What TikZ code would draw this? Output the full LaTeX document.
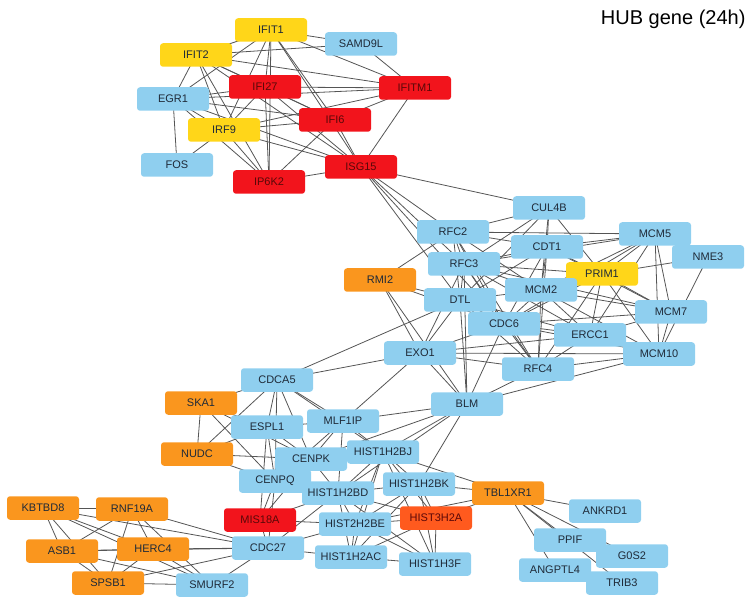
\documentclass[tikz,border=0pt]{standalone}
\usepackage{fontspec}
\setmainfont{Liberation Sans}
\usetikzlibrary{backgrounds}
\definecolor{nblue}{HTML}{8FCFEF}
\definecolor{nyellow}{HTML}{FFD619}
\definecolor{nred}{HTML}{F2141C}
\definecolor{norange}{HTML}{FA961E}
\definecolor{nored}{HTML}{FF5A1E}
\definecolor{ntext}{HTML}{1F2A38}
\definecolor{nredtext}{HTML}{5A0808}
\definecolor{edgec}{HTML}{555555}
\tikzset{
  gene/.style={rectangle, rounded corners=3pt, minimum width=72pt, minimum height=23.5pt, inner sep=0pt, font=\fontsize{11}{12}\selectfont, text=ntext},
  gblue/.style={gene, fill=nblue},
  gyel/.style={gene, fill=nyellow},
  gred/.style={gene, fill=nred, text=nredtext},
  gora/.style={gene, fill=norange},
  gored/.style={gene, fill=nored, text=nredtext},
  edge/.style={draw=edgec, line width=0.8pt}
}
\begin{document}
\begin{tikzpicture}[x=1pt,y=-1pt]
\useasboundingbox (0,0) rectangle (753,604);
\node[anchor=east, font=\fontsize{20}{23}\selectfont] (title) at (749,19) {HUB gene (24h)};
% top cluster
\node[gyel] (IFIT1) at (271,30) {IFIT1};
\node[gblue] (SAMD9L) at (361,44) {SAMD9L};
\node[gyel] (IFIT2) at (196,55) {IFIT2};
\node[gred] (IFI27) at (265,87) {IFI27};
\node[gred] (IFITM1) at (415,88) {IFITM1};
\node[gblue] (EGR1) at (173,99) {EGR1};
\node[gred] (IFI6) at (335,120) {IFI6};
\node[gyel] (IRF9) at (224,130) {IRF9};
\node[gblue] (FOS) at (177,165) {FOS};
\node[gred] (ISG15) at (361,167) {ISG15};
\node[gred] (IP6K2) at (269,182) {IP6K2};
% middle cluster
\node[gblue] (CUL4B) at (549,208) {CUL4B};
\node[gblue] (RFC2) at (453,232) {RFC2};
\node[gblue] (MCM5) at (655,234) {MCM5};
\node[gblue] (CDT1) at (547,247) {CDT1};
\node[gblue] (NME3) at (708,257) {NME3};
\node[gblue] (RFC3) at (464,264) {RFC3};
\node[gyel] (PRIM1) at (602,274) {PRIM1};
\node[gora] (RMI2) at (380,280) {RMI2};
\node[gblue] (MCM2) at (541,290) {MCM2};
\node[gblue] (DTL) at (460,300) {DTL};
\node[gblue] (MCM7) at (671,312) {MCM7};
\node[gblue] (CDC6) at (504,324) {CDC6};
\node[gblue] (ERCC1) at (590,335) {ERCC1};
\node[gblue] (EXO1) at (420,353) {EXO1};
\node[gblue] (MCM10) at (659,354) {MCM10};
\node[gblue] (RFC4) at (538,369) {RFC4};
\node[gblue] (BLM) at (467,404) {BLM};
% lower left cluster
\node[gblue] (CDCA5) at (277,380) {CDCA5};
\node[gora] (SKA1) at (201,403) {SKA1};
\node[gblue] (ESPL1) at (267,427) {ESPL1};
\node[gblue] (MLF1IP) at (343,421) {MLF1IP};
\node[gora] (NUDC) at (197,454) {NUDC};
\node[gblue] (CENPK) at (311,459) {CENPK};
\node[gblue] (HIST1H2BJ) at (383,452) {HIST1H2BJ};
\node[gblue] (CENPQ) at (275,481) {CENPQ};
\node[gblue] (HIST1H2BD) at (338,493) {HIST1H2BD};
\node[gblue] (HIST1H2BK) at (419,484) {HIST1H2BK};
\node[gora] (TBL1XR1) at (508,493) {TBL1XR1};
\node[gored] (HIST3H2A) at (436,518) {HIST3H2A};
\node[gred] (MIS18A) at (260,520) {MIS18A};
\node[gblue] (HIST2H2BE) at (355,524) {HIST2H2BE};
\node[gblue] (CDC27) at (268,548) {CDC27};
\node[gblue] (HIST1H2AC) at (351,557) {HIST1H2AC};
\node[gblue] (HIST1H3F) at (435,564) {HIST1H3F};
\node[gblue] (ANKRD1) at (605,511) {ANKRD1};
\node[gblue] (PPIF) at (570,540) {PPIF};
\node[gblue] (G0S2) at (632,556) {G0S2};
\node[gblue] (ANGPTL4) at (555,570) {ANGPTL4};
\node[gblue] (TRIB3) at (622,583) {TRIB3};
\node[gora] (KBTBD8) at (43,508) {KBTBD8};
\node[gora] (RNF19A) at (132,509) {RNF19A};
\node[gora] (ASB1) at (62,551) {ASB1};
\node[gora] (HERC4) at (153,549) {HERC4};
\node[gora] (SPSB1) at (108,583) {SPSB1};
\node[gblue] (SMURF2) at (212,585) {SMURF2};
\begin{scope}[on background layer]
\foreach \a/\b in {
 IFIT1/SAMD9L, IFIT1/IFITM1, IFIT1/IFIT2, IFIT1/IFI27, IFIT1/IFI6, IFIT1/ISG15, IFIT1/IP6K2, IFIT1/IRF9, IFIT1/EGR1,
 IFIT2/SAMD9L, IFIT2/IFITM1, IFIT2/EGR1, IFIT2/IRF9, IFIT2/IFI27, IFIT2/IFI6, IFIT2/ISG15, IFIT2/IP6K2,
 IFI27/IFITM1, IFI27/EGR1, IFI27/IRF9, IFI27/IFI6, IFI27/IP6K2, IFI27/ISG15,
 IFITM1/IFI6, IFITM1/ISG15, IFITM1/EGR1, IFITM1/IRF9, SAMD9L/IFITM1,
 EGR1/FOS, EGR1/IRF9, EGR1/IFI6, EGR1/ISG15, EGR1/IP6K2,
 IRF9/FOS, IRF9/IFI6, IRF9/ISG15, IRF9/IP6K2,
 IFI6/ISG15, IFI6/IP6K2, ISG15/IP6K2,
 ISG15/CUL4B, ISG15/RFC2, ISG15/RFC3, ISG15/DTL, ISG15/CDC6,
 RFC2/CUL4B, RFC2/MCM5, RFC2/CDT1, RFC2/RFC3, RFC2/MCM2, RFC2/DTL, RFC2/CDC6, RFC2/RFC4, RFC2/RMI2,
 CUL4B/CDT1, CUL4B/RFC3, CUL4B/MCM2, CUL4B/PRIM1, CUL4B/DTL,
 MCM5/CDT1, MCM5/PRIM1, MCM5/MCM2, MCM5/MCM7, MCM5/MCM10, MCM5/ERCC1, MCM5/NME3, MCM5/RFC3, MCM5/CDC6,
 CDT1/RFC3, CDT1/MCM2, CDT1/PRIM1, CDT1/CDC6, CDT1/DTL, CDT1/MCM7, CDT1/RFC4,
 NME3/PRIM1, NME3/MCM10,
 RFC3/PRIM1, RFC3/MCM2, RFC3/DTL, RFC3/CDC6, RFC3/RFC4, RFC3/EXO1, RFC3/BLM, RFC3/ERCC1, RFC3/MCM7,
 PRIM1/MCM2, PRIM1/MCM7, PRIM1/MCM10, PRIM1/ERCC1, PRIM1/RFC4, PRIM1/CDC6,
 RMI2/EXO1, RMI2/BLM, RMI2/DTL, RMI2/CDC6,
 MCM2/DTL, MCM2/CDC6, MCM2/MCM7, MCM2/ERCC1, MCM2/MCM10, MCM2/RFC4,
 DTL/CDC6, DTL/EXO1, DTL/RFC4, DTL/BLM, DTL/CDCA5, DTL/MCM10,
 MCM7/MCM10, MCM7/ERCC1, MCM7/CDC6,
 CDC6/ERCC1, CDC6/RFC4, CDC6/EXO1, CDC6/BLM, CDC6/MCM10,
 ERCC1/RFC4, ERCC1/EXO1, ERCC1/MCM10,
 EXO1/RFC4, EXO1/BLM, EXO1/MCM10, EXO1/CDCA5, EXO1/MLF1IP,
 MCM10/RFC4, MCM10/BLM, RFC4/BLM,
 BLM/MLF1IP, BLM/HIST1H2BJ, BLM/HIST1H2BD, BLM/HIST1H2BK, BLM/CENPK,
 CDCA5/SKA1, CDCA5/ESPL1, CDCA5/MLF1IP, CDCA5/CENPK, CDCA5/CENPQ, CDCA5/NUDC, CDCA5/HIST1H2BJ,
 SKA1/NUDC, SKA1/ESPL1, SKA1/CENPK, SKA1/CENPQ,
 ESPL1/MLF1IP, ESPL1/CENPK, ESPL1/CENPQ, ESPL1/NUDC, ESPL1/MIS18A,
 MLF1IP/CENPK, MLF1IP/HIST1H2BJ, MLF1IP/CENPQ, MLF1IP/HIST1H2BD,
 NUDC/CENPK, NUDC/CENPQ,
 CENPK/CENPQ, CENPK/HIST1H2BJ, CENPK/MIS18A, CENPK/HIST1H2BD,
 CENPQ/MIS18A, CENPQ/HIST1H2BD, CENPQ/CDC27,
 HIST1H2BJ/HIST1H2BD, HIST1H2BJ/HIST1H2BK, HIST1H2BJ/HIST3H2A, HIST1H2BJ/HIST2H2BE, HIST1H2BJ/HIST1H2AC, HIST1H2BJ/HIST1H3F,
 HIST1H2BD/HIST1H2BK, HIST1H2BD/HIST3H2A, HIST1H2BD/HIST2H2BE, HIST1H2BD/HIST1H2AC, HIST1H2BD/HIST1H3F,
 HIST1H2BK/HIST3H2A, HIST1H2BK/HIST2H2BE, HIST1H2BK/HIST1H2AC, HIST1H2BK/HIST1H3F,
 HIST3H2A/HIST2H2BE, HIST3H2A/HIST1H2AC, HIST3H2A/HIST1H3F,
 HIST2H2BE/HIST1H2AC, HIST2H2BE/HIST1H3F, HIST1H2AC/HIST1H3F,
 TBL1XR1/HIST1H2BK, TBL1XR1/HIST3H2A, TBL1XR1/HIST1H2BJ, TBL1XR1/HIST2H2BE,
 TBL1XR1/ANKRD1, TBL1XR1/PPIF, TBL1XR1/ANGPTL4, TBL1XR1/TRIB3, TBL1XR1/G0S2,
 CDC27/MIS18A, CDC27/HIST1H2AC, CDC27/HERC4, CDC27/RNF19A, CDC27/SMURF2, CDC27/SPSB1, CDC27/KBTBD8, CDC27/ASB1, CDC27/HIST2H2BE, CDC27/HIST1H2BD,
 MIS18A/HIST2H2BE, MIS18A/HIST1H2BD,
 KBTBD8/RNF19A, KBTBD8/ASB1, KBTBD8/HERC4, KBTBD8/SPSB1, KBTBD8/SMURF2,
 RNF19A/ASB1, RNF19A/HERC4, RNF19A/SPSB1, RNF19A/SMURF2,
 ASB1/HERC4, ASB1/SPSB1, ASB1/SMURF2,
 HERC4/SPSB1, HERC4/SMURF2, SPSB1/SMURF2}
 \draw[edge] (\a.center) -- (\b.center);
\end{scope}
\end{tikzpicture}
\end{document}
